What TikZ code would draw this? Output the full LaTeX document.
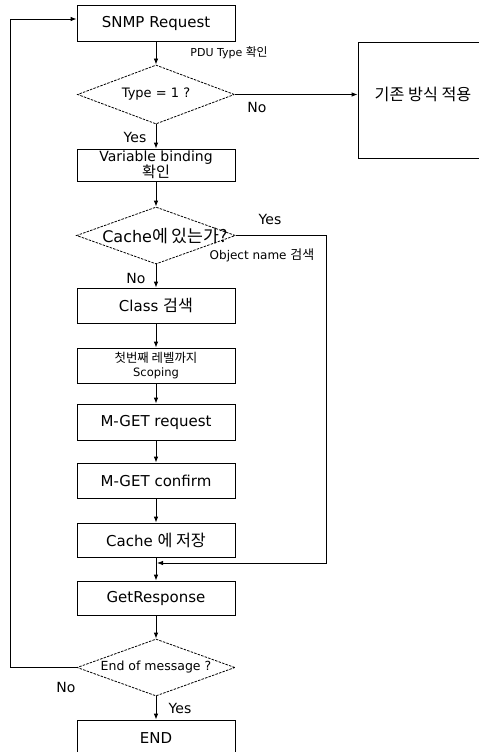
\documentclass[tikz,border=0pt]{standalone}
\usepackage{fontspec}
\setmainfont{DejaVu Sans}
\newfontfamily\kr[Scale=1.08]{Noto Sans CJK KR}
\usetikzlibrary{arrows.meta,shapes.geometric}
\begin{document}
\begin{tikzpicture}[x=1pt,y=-1pt,
  line width=0.8pt,
  arr/.style={-{Latex[length=6pt,width=4.5pt]}},
  procbox/.style={draw,rectangle,minimum width=158pt,inner sep=0pt,align=center},
  decision/.style={draw,diamond,inner sep=0pt,dash pattern=on 2.5pt off 1.2pt},
  fA/.style={font=\fontsize{15}{17}\selectfont},
  fB/.style={font=\fontsize{13}{15}\selectfont},
  fC/.style={font=\fontsize{11.5}{15}\selectfont},
  lbl/.style={inner sep=0pt}]
\fill[white] (0,0) rectangle (479,752);
\useasboundingbox (0,0) rectangle (479,752);

% boxes
\node[procbox,minimum height=36pt,fA] (snmp) at (156,23) {SNMP Request};
\node[decision,minimum width=157pt,minimum height=59pt] (type) at (156,94.5) {};
\node[fB] at (type.center) {Type = 1 ?};
\node[procbox,minimum height=32pt,font=\fontsize{14}{15}\selectfont] (var) at (156,165) {Variable binding\\{\kr 확인}};
\node[decision,minimum width=159pt,minimum height=57pt] (cache) at (156,235.5) {};
\node[font=\fontsize{16}{18}\selectfont] at ([xshift=9pt,yshift=-1pt]cache.center) {Cache{\kr 에 있는가?}};
\node[procbox,minimum height=35pt,fA] (class) at (156,305.5) {Class {\kr 검색}};
\node[procbox,minimum height=35pt,fC] (scope) at (156,365.5) {{\kr 첫번째 레벨까지}\\[-1pt]Scoping};
\node[procbox,minimum height=36pt,fA] (mreq) at (156,422) {M-GET request};
\node[procbox,minimum height=35pt,fA] (mconf) at (156,480.5) {M-GET confirm};
\node[procbox,minimum height=34pt,fA] (store) at (156,540) {Cache {\kr 에 저장}};
\node[procbox,minimum height=34pt,fA] (getr) at (156,598) {GetResponse};
\node[decision,minimum width=158pt,minimum height=57pt] (eom) at (156,667.5) {};
\node[font=\fontsize{12.5}{15}\selectfont] at (eom.center) {End of message ?};
\node[procbox,minimum height=36pt,fA] (endb) at (156,738) {END};

\node[draw,rectangle,minimum width=132pt,minimum height=116pt,inner sep=0pt] (legacy) at (424,100) {};
\node[fA] (legtxt) at (423,94) {{\kr 기존 방식 적용}};

% coordinates
\coordinate (loopTop) at (10,19);
\coordinate (jr) at (326,563);
\coordinate (junc) at (157,563);

% connectors
\draw[arr] (snmp) -- (type);
\draw[arr] (type.east) -- (type.east -| legacy.west);
\draw[arr] (type) -- (var);
\draw[arr] (var) -- (cache);
\draw[arr] (cache) -- (class);
\draw[arr] (class) -- (scope);
\draw[arr] (scope) -- (mreq);
\draw[arr] (mreq) -- (mconf);
\draw[arr] (mconf) -- (store);
\draw[arr] (store) -- (getr);
\draw[arr] (cache.east) -| (jr) -- (junc);
\draw[arr] (getr) -- (eom);
\draw[arr] (eom) -- (endb);
\draw[arr] (eom.west) -| (loopTop) -- (loopTop -| snmp.west);

% labels
\node[lbl,anchor=west,font=\fontsize{11}{13}\selectfont] at (190,53) {PDU Type {\kr 확인}};
\node[lbl,font=\fontsize{14}{16}\selectfont] at (257,107) {No};
\node[lbl,font=\fontsize{14}{16}\selectfont] at (135,137) {Yes};
\node[lbl,font=\fontsize{14}{16}\selectfont] at (270,219) {Yes};
\node[lbl,font=\fontsize{12}{14}\selectfont] at (262,255) {Object name {\kr 검색}};
\node[lbl,font=\fontsize{14}{16}\selectfont] at (136,278) {No};
\node[lbl,font=\fontsize{14}{16}\selectfont] at (66,687) {No};
\node[lbl,font=\fontsize{14}{16}\selectfont] at (180,708) {Yes};
\end{tikzpicture}
\end{document}
